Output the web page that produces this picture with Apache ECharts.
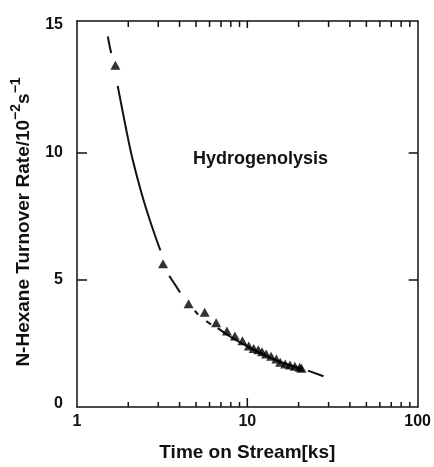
<!DOCTYPE html>
<html>
<head>
<meta charset="utf-8">
<script src="https://cdn.jsdelivr.net/npm/echarts@6/dist/echarts.min.js"></script>
<style>
html,body{margin:0;padding:0;background:#fff;}
#chart{width:434px;height:467px;}
</style>
</head>
<body>
<div id="chart"></div>
<script>
// ---- data ----
const xTickLabels = [1, 10, 100];
const xMinorTicks = [2,3,4,5,6,7,8,9,20,30,40,50,60,70,80,90];
const yTickLabels = [0, 5, 10, 15];
const yTicks = [5, 10];
const markerPoints = [
  [1.68,13.42],[3.2,5.63],[4.52,4.06],[5.62,3.72],[6.56,3.31],[7.59,2.98],
  [8.45,2.79],[9.36,2.6],[10.2,2.4],[10.9,2.3],[11.6,2.25],[12.2,2.17],
  [12.9,2.08],[13.8,1.99],[14.8,1.89],[15.6,1.76],[16.7,1.69],[17.8,1.65],
  [19.0,1.6],[20.3,1.56],[20.8,1.52]
];
const curveSeg1 = [[1.517,14.55],[1.55,14.22],[1.587,13.9]];
const curveSeg2 = [[1.733,12.61],[1.941,10.93],[2.116,9.75],[2.416,8.3],[2.761,7.07],[3.087,6.15]];
const curveSeg3 = [[3.48,5.15],[3.75,4.82],[4.03,4.5]];
const curveSeg4 = [[4.92,3.78],[5.14,3.63]];
const curveSeg5 = [[5.74,3.37],[6.13,3.24]];
const curveSeg6 = [[6.7,3.1],[8,2.75],[10,2.38],[12.5,2.05],[15,1.82],[18,1.63],[21,1.5]];
const curveSeg7 = [[22.7,1.43],[28.0,1.21]];
const xName = 'Time on Stream[ks]';
const yNameParts = ['N-Hexane Turnover Rate/10', '−2', 's', '−1'];
const annotation = 'Hydrogenolysis';

const X_MIN = 1, X_MAX = 100, Y_MIN = 0, Y_MAX = 15.16;
const FONT = "'Liberation Sans', Arial, Helvetica, sans-serif";
const INK = '#111';

const chart = echarts.init(document.getElementById('chart'), null, {renderer: 'canvas'});

const curveSeries = [curveSeg1, curveSeg2, curveSeg3, curveSeg4, curveSeg5, curveSeg6, curveSeg7].map(seg => ({
  type: 'line',
  data: seg,
  smooth: 0.4,
  showSymbol: false,
  symbol: 'none',
  lineStyle: {color: INK, width: 2},
  silent: true,
  z: 2
}));

const yNameRich = '{a|' + yNameParts[0] + '}{s|' + yNameParts[1] + '}{a|' + yNameParts[2] + '}{s|' + yNameParts[3] + '}';

const option = {
  animation: false,
  backgroundColor: '#fff',
  grid: {left: 77, right: 11, top: 21, bottom: 55, containLabel: false},
  xAxis: [
    {
      type: 'log', logBase: 10, min: X_MIN, max: X_MAX, position: 'bottom',
      name: xName, nameLocation: 'middle', nameGap: 36,
      nameTextStyle: {fontFamily: FONT, fontWeight: 'bold', fontSize: 19, color: INK},
      axisLine: {show: true, onZero: false, lineStyle: {color: INK, width: 1.5}},
      axisTick: {show: false},
      axisLabel: {show: true, margin: 7, fontFamily: FONT, fontWeight: 'bold', fontSize: 16, color: INK,
        formatter: v => xTickLabels.includes(Math.round(v)) ? String(Math.round(v)) : ''},
      splitLine: {show: false}, minorTick: {show: false}
    },
    {
      type: 'log', logBase: 10, min: X_MIN, max: X_MAX, position: 'top',
      axisLine: {show: true, onZero: false, lineStyle: {color: INK, width: 1.5}},
      axisTick: {show: false},
      axisLabel: {show: false}, splitLine: {show: false}
    }
  ],
  yAxis: [
    {
      type: 'value', min: Y_MIN, max: Y_MAX, interval: 5, position: 'left',
      name: yNameRich, nameLocation: 'middle', nameGap: 44, nameRotate: 90,
      nameTextStyle: {
        color: INK,
        padding: [0, 16, 0, 0],
        rich: {
          a: {fontFamily: FONT, fontWeight: 'bold', fontSize: 19, color: INK, lineHeight: 24, verticalAlign: 'bottom'},
          s: {fontFamily: FONT, fontWeight: 'bold', fontSize: 14, color: INK, lineHeight: 24, verticalAlign: 'top'}
        }
      },
      axisLine: {show: true, onZero: false, lineStyle: {color: INK, width: 1.5}},
      axisTick: {show: true, inside: true, length: 10, customValues: yTicks, lineStyle: {color: INK, width: 1.5}},
      axisLabel: {show: true, margin: 14, customValues: yTickLabels, fontFamily: FONT, fontWeight: 'bold', fontSize: 16, color: INK,
        formatter: v => v === 0 ? '{z|0}' : String(v),
        rich: {z: {fontFamily: FONT, fontWeight: 'bold', fontSize: 16, color: INK, padding: [0, 0, 7, 0]}}},
      splitLine: {show: false}
    },
    {
      type: 'value', min: Y_MIN, max: Y_MAX, interval: 5, position: 'right',
      axisLine: {show: true, onZero: false, lineStyle: {color: INK, width: 1.5}},
      axisTick: {show: true, inside: true, length: 9, customValues: yTicks, lineStyle: {color: INK, width: 1.5}},
      axisLabel: {show: false}, splitLine: {show: false}
    }
  ],
  graphic: [{
    type: 'text', left: 193, top: 150,
    style: {text: annotation, fontFamily: FONT, fontWeight: 'bold', fontSize: 18, fill: INK}
  }],
  series: [
    ...curveSeries,
    {
      type: 'scatter',
      data: markerPoints,
      symbol: 'triangle',
      symbolSize: [10, 9],
      itemStyle: {color: '#000'},
      silent: true,
      z: 3
    }
  ]
};
chart.setOption(option);

// x-axis ticks (log scale) placed through the axis scale
const tickEls = [];
const addTick = (v, lenBottom, lenTop) => {
  const b = chart.convertToPixel({xAxisIndex: 0, yAxisIndex: 0}, [v, Y_MIN]);
  const t = chart.convertToPixel({xAxisIndex: 0, yAxisIndex: 0}, [v, Y_MAX]);
  tickEls.push({type: 'line', silent: true, z: 10, shape: {x1: b[0], y1: b[1], x2: b[0], y2: b[1] - lenBottom}, style: {stroke: INK, lineWidth: 1.5}});
  tickEls.push({type: 'line', silent: true, z: 10, shape: {x1: t[0], y1: t[1], x2: t[0], y2: t[1] + lenTop}, style: {stroke: INK, lineWidth: 1.5}});
};
xMinorTicks.forEach(v => addTick(v, 5, 6));
addTick(10, 9, 7);
chart.setOption({graphic: option.graphic.concat(tickEls)}, {replaceMerge: ['graphic']});
</script>
</body>
</html>
